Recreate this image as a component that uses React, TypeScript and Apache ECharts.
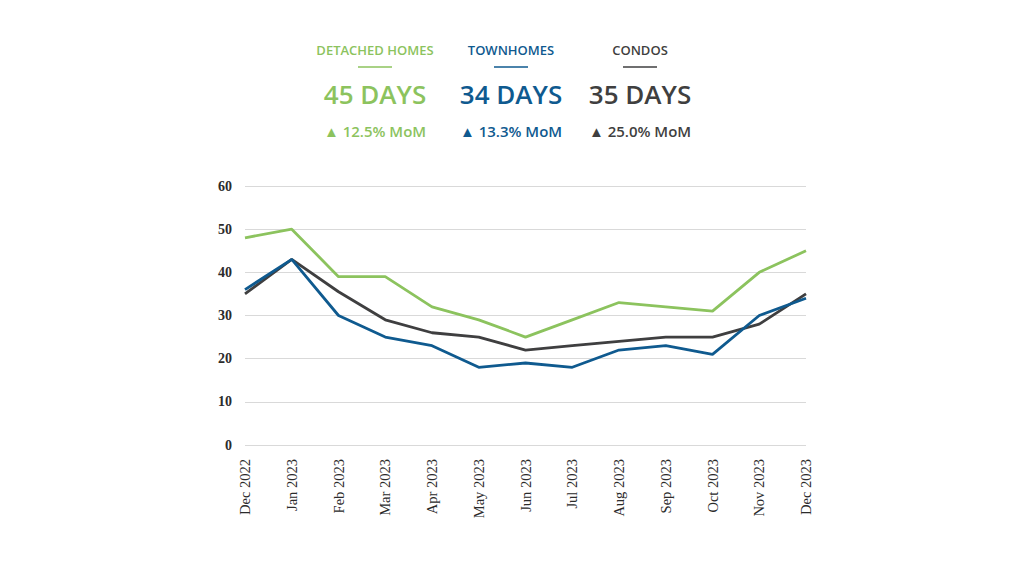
import React, { useEffect, useRef } from "react";
import * as echarts from "echarts";

const months = [
  "Dec 2022", "Jan 2023", "Feb 2023", "Mar 2023", "Apr 2023", "May 2023", "Jun 2023",
  "Jul 2023", "Aug 2023", "Sep 2023", "Oct 2023", "Nov 2023", "Dec 2023",
];
const detached = [48, 50, 39, 39, 32, 29, 25, 29, 33, 32, 31, 40, 45];
const townhomes = [36, 43, 30, 25, 23, 18, 19, 18, 22, 23, 21, 30, 34];
const condos = [35, 43, 35.5, 29, 26, 25, 22, 23, 24, 25, 25, 28, 35];

const seriesNames = ["DETACHED HOMES", "TOWNHOMES", "CONDOS"];
const seriesColors = ["#8cc35e", "#0f5a8f", "#3f3f40"];
const headerCenters = [375, 511, 640];

const SANS = "'Open Sans', Lato, sans-serif";
const SERIF = "'Liberation Serif', 'DejaVu Serif', serif";

function momText(values: number[]) {
  const last = values[values.length - 1];
  const prev = values[values.length - 2];
  const pct = ((last - prev) / prev) * 100;
  return `${pct.toFixed(1)}% MoM`;
}

export default function App() {
  const ref = useRef<HTMLDivElement>(null);

  useEffect(() => {
    if (!ref.current) return;
    const chart = echarts.init(ref.current, undefined, { renderer: "svg" });
    const all = [detached, townhomes, condos];

    const header: any[] = [];
    all.forEach((vals, i) => {
      const cx = headerCenters[i];
      const color = seriesColors[i];
      header.push({
        type: "text",
        x: cx,
        y: 50,
        style: {
          text: seriesNames[i],
          fill: color,
          font: `600 13px ${SANS}`,
          textAlign: "center",
          textVerticalAlign: "middle",
        },
      });
      header.push({
        type: "line",
        shape: { x1: cx - 17, y1: 67, x2: cx + 17, y2: 67 },
        style: { stroke: color, lineWidth: 1.5 },
      });
      header.push({
        type: "text",
        x: cx,
        y: 94,
        style: {
          text: `${vals[vals.length - 1]} DAYS`,
          fill: color,
          font: `600 26px ${SANS}`,
          textAlign: "center",
          textVerticalAlign: "middle",
        },
      });
      header.push({
        type: "text",
        x: cx,
        y: 131,
        style: {
          text: `▲ ${momText(vals)}`,
          fill: color,
          font: `600 15px ${SANS}`,
          textAlign: "center",
          textVerticalAlign: "middle",
        },
      });
    });

    chart.setOption({
      animation: false,
      backgroundColor: "#ffffff",
      grid: { left: 245, right: 218, top: 186, bottom: 131, containLabel: false },
      xAxis: {
        type: "category",
        data: months,
        boundaryGap: false,
        axisLine: { show: false },
        axisTick: { show: false },
        axisLabel: {
          rotate: 90,
          margin: 14,
          color: "#2b2b2b",
          fontFamily: SERIF,
          fontSize: 14.5,
          interval: 0,
        },
      },
      yAxis: {
        type: "value",
        min: 0,
        max: 60,
        interval: 10,
        axisLine: { show: false },
        axisTick: { show: false },
        axisLabel: {
          margin: 13,
          color: "#2b2b2b",
          fontFamily: SERIF,
          fontSize: 14,
          fontWeight: "bold",
        },
        splitLine: { lineStyle: { color: "#d9d9d9", width: 1 } },
      },
      series: all.map((vals, i) => ({
        name: seriesNames[i],
        type: "line",
        data: vals,
        symbol: "none",
        z: 3 - i,
        lineStyle: { color: seriesColors[i], width: 2.8 },
      })),
      graphic: header,
    });

    return () => chart.dispose();
  }, []);

  return (
    <div
      ref={ref}
      style={{ position: "absolute", left: 0, top: 0, width: 1024, height: 576 }}
    />
  );
}
